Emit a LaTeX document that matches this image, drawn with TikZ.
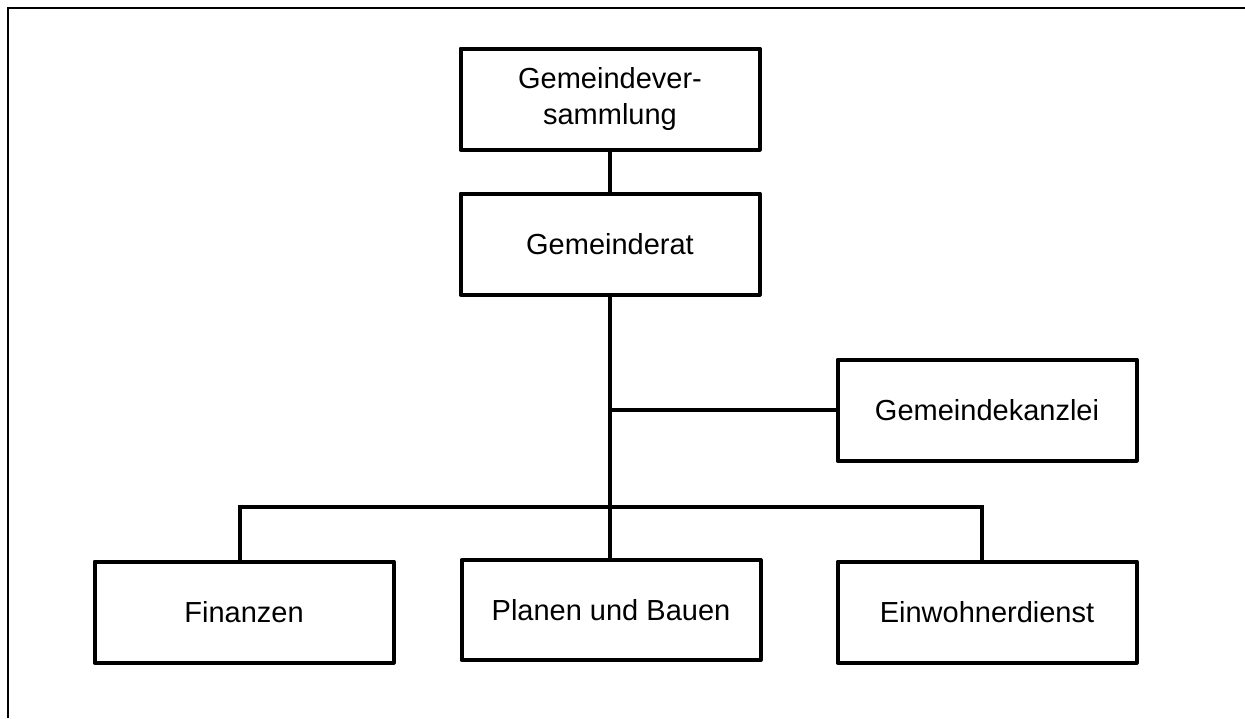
\documentclass[tikz,border=0pt]{standalone}
\usepackage{fontspec}
\setmainfont{Liberation Sans}
\usepackage{tikz}
\usetikzlibrary{positioning}
\tikzstyle{unit} = [rectangle,
minimum width=299pt,
minimum height=101pt,
text centered,
align=center,
line width=4pt,
line join=round,
draw=black,
font=\fontsize{29}{36}\selectfont]
\tikzstyle{link} = [line width=4pt]

\begin{document}
\begin{tikzpicture}[x=1pt,y=-1pt]
\useasboundingbox (0,0) rectangle (1245,718);
\draw[line width=2.5pt] (8,718) -- (8,8) -- (1245,8);

\node (versammlung) [unit] at (610,99) {Gemeindever-\\sammlung};
\node (rat) [unit] at (610,244) {Gemeinderat};
\node (kanzlei) [unit] at (987,410) {Gemeindekanzlei};
\node (finanzen) [unit] at (244,612) {Finanzen};
\node (bauen) [unit, minimum height=100pt] at (611,610) {Planen und Bauen};
\node (dienst) [unit] at (987,612) {Einwohnerdienst};
\coordinate (bus) at (610,507);

\draw [link] (versammlung) -- (rat);
\draw [link] (rat.south) -- (rat.south |- bauen.north);
\draw [link] (kanzlei.west) -- (kanzlei.west -| rat.south);
\draw [link] ([xshift=-4pt]finanzen.north) |- (bus) -| ([xshift=-5pt]dienst.north);

\end{tikzpicture}
\end{document}
